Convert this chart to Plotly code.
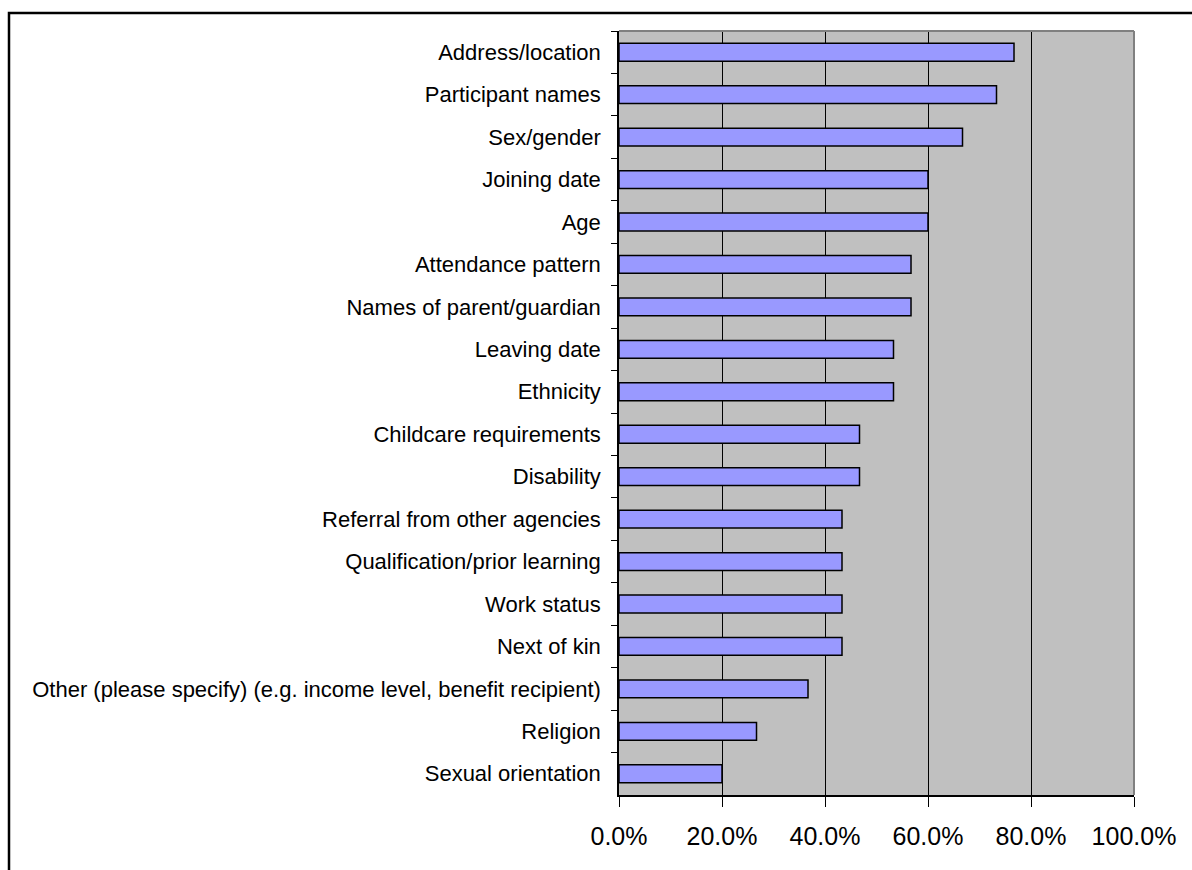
import plotly.graph_objects as go

categories = [
    "Address/location",
    "Participant names",
    "Sex/gender",
    "Joining date",
    "Age",
    "Attendance pattern",
    "Names of parent/guardian",
    "Leaving date",
    "Ethnicity",
    "Childcare requirements",
    "Disability",
    "Referral from other agencies",
    "Qualification/prior learning",
    "Work status",
    "Next of kin",
    "Other (please specify) (e.g. income level, benefit recipient)",
    "Religion",
    "Sexual orientation",
]
values = [0.767, 0.733, 0.667, 0.600, 0.600, 0.567, 0.567, 0.533, 0.533,
          0.467, 0.467, 0.433, 0.433, 0.433, 0.433, 0.367, 0.267, 0.200]
x_ticks = [0, 0.2, 0.4, 0.6, 0.8, 1.0]
x_tick_labels = ["0.0%", "20.0%", "40.0%", "60.0%", "80.0%", "100.0%"]

W, H = 1192, 870
L, R, T, B = 619, 1134, 31, 795

fig = go.Figure(go.Bar(
    x=values, y=categories, orientation="h",
    marker=dict(color="#9999FF", line=dict(color="black", width=1.5)),
    hoverinfo="x+y",
))

def px_to_paper_x(p):
    return (p - L) / (R - L)

def px_to_paper_y(p):
    return (B - p) / (B - T)

fig.update_layout(
    width=W, height=H,
    margin=dict(l=L, r=W - R, t=T, b=H - B, autoexpand=False),
    paper_bgcolor="white",
    plot_bgcolor="#C0C0C0",
    bargap=0.58,
    showlegend=False,
    font=dict(family="Liberation Sans, Arial, sans-serif", color="black"),
    xaxis=dict(
        range=[0, 1.0],
        tickvals=x_ticks, ticktext=x_tick_labels,
        showgrid=True, gridcolor="black", gridwidth=1,
        showline=True, linecolor="black", linewidth=1.5,
        ticks="outside", ticklen=10, tickcolor="black", tickwidth=1,
        tickfont=dict(size=25),
        ticklabelstandoff=8,
        zeroline=False, fixedrange=True,
    ),
    yaxis=dict(
        categoryorder="array", categoryarray=categories,
        autorange="reversed",
        showgrid=False,
        showline=True, linecolor="black", linewidth=1.5,
        ticks="outside", ticklen=6, tickcolor="black", tickwidth=1,
        tickson="boundaries",
        tickfont=dict(size=22),
        ticklabelstandoff=12,
        fixedrange=True,
    ),
    shapes=[
        dict(type="line", xref="paper", yref="paper", x0=0, x1=1, y0=1, y1=1,
             line=dict(color="#808080", width=2)),
        dict(type="line", xref="paper", yref="paper", x0=1, x1=1, y0=0, y1=1,
             line=dict(color="#808080", width=2)),
        dict(type="rect", xref="paper", yref="paper",
             x0=px_to_paper_x(9), x1=px_to_paper_x(1200),
             y0=px_to_paper_y(880), y1=px_to_paper_y(13),
             line=dict(color="black", width=2.5)),
    ],
)

fig.write_html("out.html")
